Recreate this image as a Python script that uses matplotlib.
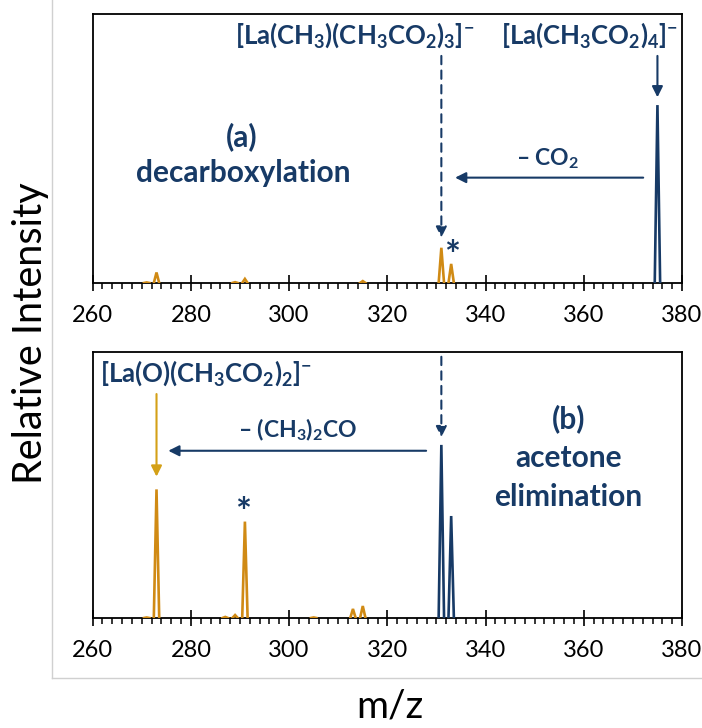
import matplotlib
matplotlib.use("Agg")
import matplotlib.pyplot as plt
from matplotlib.ticker import MultipleLocator
from matplotlib.lines import Line2D

plt.rcParams['font.family'] = ['Lato', 'DejaVu Sans']
plt.rcParams['mathtext.fontset'] = 'custom'
plt.rcParams['mathtext.rm'] = 'Lato'
plt.rcParams['mathtext.bf'] = 'Lato:bold'
plt.rcParams['mathtext.default'] = 'bf'

NAVY = '#173A66'
ORANGE = '#D08A14'
ARROW_ORANGE = '#D4A017'

# ---- data (m/z, relative intensity) ----
a_orange_mz = [271, 273, 289, 291, 315, 331, 333]
a_orange_int = [0.002, 0.039, 0.003, 0.015, 0.007, 0.131, 0.071]
a_navy_mz = [375]
a_navy_int = [0.662]

b_orange_mz = [271, 273, 287, 289, 291, 305, 313, 315]
b_orange_int = [0.002, 0.483, 0.004, 0.011, 0.362, 0.002, 0.034, 0.045]
b_navy_mz = [331, 333]
b_navy_int = [0.650, 0.383]

x_ticks = [260, 280, 300, 320, 340, 360, 380]
x_range = (260, 380)

fig = plt.figure(figsize=(7.02, 7.28), dpi=100)
ax1 = fig.add_axes([0.132, 0.6113, 0.8395, 0.3691])
ax2 = fig.add_axes([0.132, 0.1511, 0.8395, 0.3658])

HW = 0.55  # half width of a peak profile


def draw_peaks(ax, mzs, ints, color):
    for m, h in zip(mzs, ints):
        ax.plot([m - HW, m, m + HW], [0, h, 0], color=color, lw=1.9,
                solid_joinstyle='miter', zorder=3)


def style_axes(ax):
    ax.set_xlim(*x_range)
    ax.set_ylim(0, 1)
    ax.set_xticks(x_ticks)
    ax.xaxis.set_minor_locator(MultipleLocator(2))
    ax.set_yticks([])
    for s in ax.spines.values():
        s.set_linewidth(1.3)
        s.set_color('black')
    ax.tick_params(axis='x', which='major', direction='inout', length=11.5,
                   width=1.2, labelsize=17, pad=10, colors='black')
    ax.tick_params(axis='x', which='minor', direction='out', length=4.3,
                   width=1.1)


style_axes(ax1)
style_axes(ax2)

draw_peaks(ax1, a_orange_mz, a_orange_int, ORANGE)
draw_peaks(ax1, a_navy_mz, a_navy_int, NAVY)
draw_peaks(ax2, b_orange_mz, b_orange_int, ORANGE)
draw_peaks(ax2, b_navy_mz, b_navy_int, NAVY)

arrow_kw = dict(arrowstyle='-|>', lw=1.5, color=NAVY, mutation_scale=16,
                shrinkA=0, shrinkB=0)

LBL = 18.5
BIG = 21.5

# ---- panel (a) annotations ----
ax1.text(361.1, 0.923, r'[La(CH$_3$CO$_2$)$_4$]$^{-}$', color=NAVY,
         fontsize=LBL, fontweight='bold', ha='center', va='center')
ax1.text(313.4, 0.923, r'[La(CH$_3$)(CH$_3$CO$_2$)$_3$]$^{-}$', color=NAVY,
         fontsize=LBL, fontweight='bold', ha='center', va='center')
ax1.annotate('', xy=(a_navy_mz[0], 0.691), xytext=(a_navy_mz[0], 0.845),
             arrowprops=arrow_kw)
ax1.annotate('', xy=(331, 0.169), xytext=(331, 0.845),
             arrowprops=dict(arrow_kw, linestyle=(0, (4, 3))))
ax1.annotate('', xy=(333.8, 0.392), xytext=(372.1, 0.392),
             arrowprops=arrow_kw)
ax1.text(352.7, 0.461, r'– CO$_2$', color=NAVY, fontsize=16.5,
         fontweight='bold', ha='center', va='center')
ax1.text(333.1, 0.055, '*', color=NAVY, fontsize=27, fontweight='bold',
         ha='center', va='baseline')
ax1.text(290.3, 0.544, '(a)', color=NAVY, fontsize=BIG, fontweight='bold',
         ha='center', va='center')
ax1.text(290.6, 0.41, 'decarboxylation', color=NAVY, fontsize=BIG,
         fontweight='bold', ha='center', va='center')

# ---- panel (b) annotations ----
ax2.text(283.1, 0.92, r'[La(O)(CH$_3$CO$_2$)$_2$]$^{-}$', color=NAVY,
         fontsize=LBL, fontweight='bold', ha='center', va='center')
ax2.annotate('', xy=(273, 0.531), xytext=(273, 0.841),
             arrowprops=dict(arrow_kw, color=ARROW_ORANGE))
ax2.annotate('', xy=(275.4, 0.628), xytext=(327.9, 0.628),
             arrowprops=arrow_kw)
ax2.text(301.8, 0.706, r'– (CH$_3$)$_2$CO', color=NAVY, fontsize=16.5,
         fontweight='bold', ha='center', va='center')
ax2.text(290.7, 0.35, '*', color=NAVY, fontsize=27, fontweight='bold',
         ha='center', va='baseline')
ax2.annotate('', xy=(331, 0.679), xytext=(331, 0.981),
             arrowprops=dict(arrow_kw, linestyle=(0, (4, 3))))
ax2.text(356.9, 0.75, '(b)', color=NAVY, fontsize=BIG, fontweight='bold',
         ha='center', va='center')
ax2.text(356.9, 0.601, 'acetone', color=NAVY, fontsize=BIG, fontweight='bold',
         ha='center', va='center')
ax2.text(356.9, 0.455, 'elimination', color=NAVY, fontsize=BIG,
         fontweight='bold', ha='center', va='center')

# ---- axis titles ----
fig.text(0.043, 0.5426, 'Relative Intensity', rotation=90, fontsize=28.5,
         ha='center', va='center', color='black')
fig.text(0.555, 0.03, 'm/z', fontsize=28, ha='center', va='center',
         color='black')

# ---- light grey frame ----
fig.add_artist(Line2D([0.074, 0.074], [0.0687, 1.0], transform=fig.transFigure,
                      color='#D0D0D0', lw=1.0))
fig.add_artist(Line2D([0.074, 1.0], [0.0687, 0.0687], transform=fig.transFigure,
                      color='#D0D0D0', lw=1.0))

fig.savefig('out.png', dpi=100)
